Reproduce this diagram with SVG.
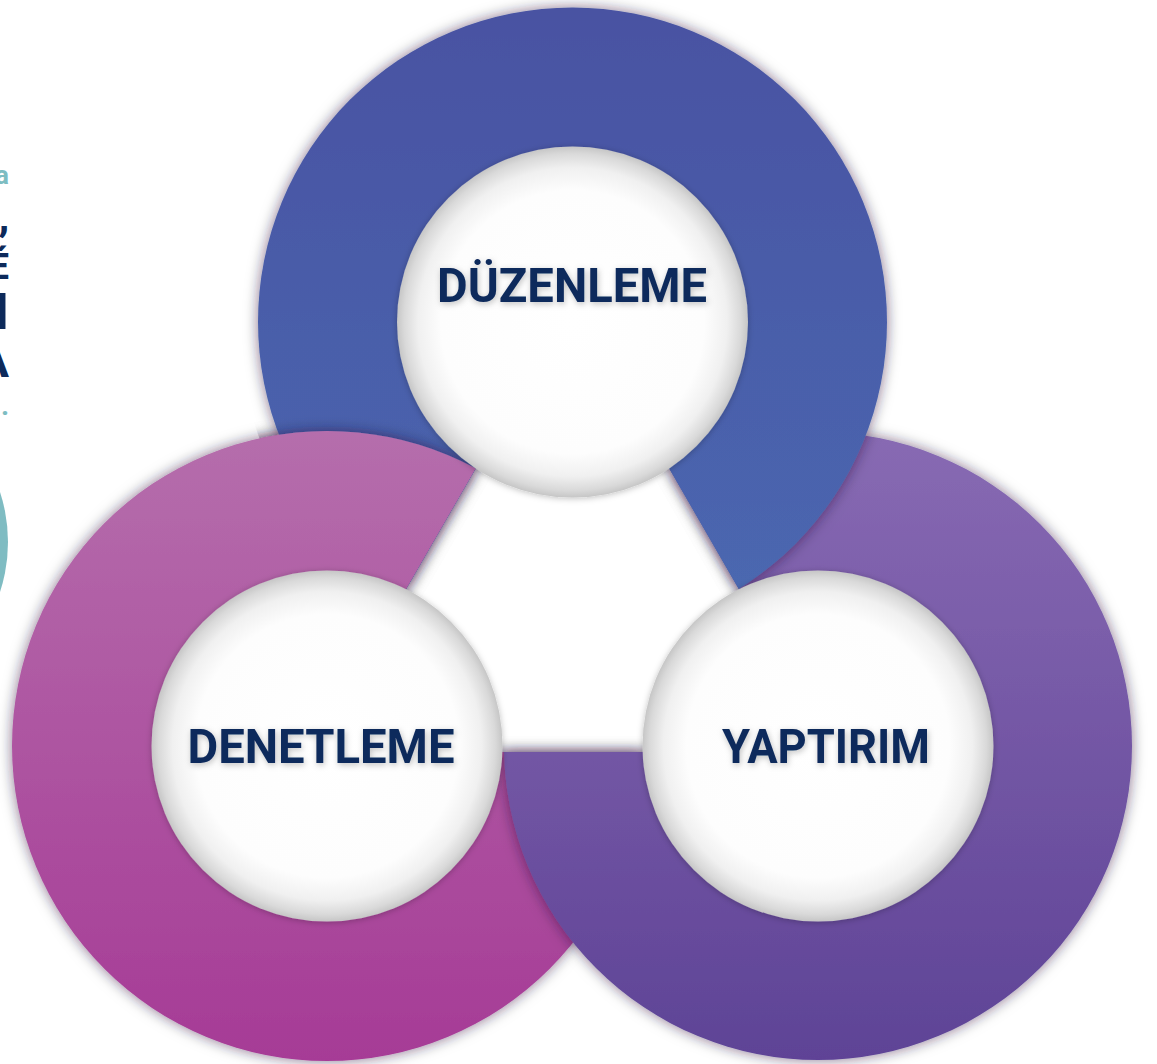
<svg xmlns="http://www.w3.org/2000/svg" width="1157" height="1064" viewBox="0 0 1157 1064">
<style>
.lbl{font-family:Roboto,"Liberation Sans",sans-serif;font-weight:700;font-size:49px;fill:#0d2a5b;text-anchor:middle}
.frag{font-family:Roboto,"Liberation Sans",sans-serif;font-weight:700;text-anchor:end}
</style>
<defs>
<linearGradient id="gBlue" x1="0" y1="0" x2="0" y2="1"><stop offset="0" stop-color="#4952a2"/><stop offset="1" stop-color="#4b69b1"/></linearGradient>
<linearGradient id="gPink" x1="0" y1="0" x2="0" y2="1"><stop offset="0" stop-color="#b56eac"/><stop offset="1" stop-color="#a63b96"/></linearGradient>
<linearGradient id="gPurple" x1="0" y1="0" x2="0" y2="1"><stop offset="0" stop-color="#886ab3"/><stop offset="1" stop-color="#5e4396"/></linearGradient>
<radialGradient id="gInner" cx="0.5" cy="0.5" r="0.5">
<stop offset="0" stop-color="#ffffff"/><stop offset="0.75" stop-color="#fdfdfd"/><stop offset="0.88" stop-color="#f0f0f0"/><stop offset="0.96" stop-color="#d9d9d9"/><stop offset="1" stop-color="#c6c6c6"/>
</radialGradient>
<filter id="sh" x="-20%" y="-20%" width="140%" height="140%"><feDropShadow dx="0" dy="0" stdDeviation="7" flood-color="#1c1030" flood-opacity="0.55"/></filter>
<filter id="shIn" x="-20%" y="-20%" width="140%" height="140%"><feDropShadow dx="0" dy="1" stdDeviation="3" flood-color="#000" flood-opacity="0.25"/></filter>
<filter id="tsh" x="-10%" y="-30%" width="120%" height="160%"><feDropShadow dx="1" dy="2" stdDeviation="3" flood-color="#000" flood-opacity="0.25"/></filter>
<clipPath id="notT"><path clip-rule="evenodd" d="M-10 -10H1170V1080H-10Z M572.5 301.1 L832.8 752 L312.2 752 Z"/></clipPath>
<clipPath id="blueBig"><circle cx="572.5" cy="322" r="334"/></clipPath>
</defs>
<rect width="1157" height="1064" fill="#ffffff"/>
<g id="edge-fragments">
<text class="frag" x="9" y="184" font-size="26" fill="#7dbdc2">a</text>
<text class="frag" x="9" y="262" font-size="48" fill="#0d2a5b">’</text>
<text class="frag" x="9" y="279" font-size="36" fill="#0d2a5b">É</text>
<text class="frag" x="9" y="329" font-size="50" fill="#0d2a5b">I</text>
<text class="frag" x="9" y="377" font-size="48" fill="#0d2a5b">A</text>
<text class="frag" x="9" y="415" font-size="28" fill="#7dbdc2">.</text>
<circle cx="-152" cy="542" r="160" fill="#7fbcc2"/>
</g>
<g id="connectors"></g>
<g id="ring-denetleme">
<g filter="url(#sh)"><circle cx="327" cy="746" r="315" fill="url(#gPink)" clip-path="url(#notT)"/></g>
</g>
<g id="ring-yaptirim">
<g filter="url(#sh)"><circle cx="818" cy="746" r="314" fill="url(#gPurple)" clip-path="url(#notT)"/></g>
</g>
<g id="ring-duzenleme">
<g filter="url(#sh)"><circle cx="572.5" cy="322" r="314.5" fill="url(#gBlue)" clip-path="url(#notT)"/></g>
</g>
<g id="ring-denetleme-over" clip-path="url(#notT)">
<g clip-path="url(#blueBig)">
<g filter="url(#sh)"><circle cx="327" cy="746" r="315" fill="url(#gPink)" clip-path="url(#notT)"/></g>
</g>
</g>
<g id="node-duzenleme">
<circle cx="572.5" cy="322" r="175.5" fill="url(#gInner)" filter="url(#shIn)"/>
<text class="lbl" x="572" y="302" textLength="270" lengthAdjust="spacingAndGlyphs" filter="url(#tsh)">DÜZENLEME</text>
</g>
<g id="node-denetleme">
<circle cx="327" cy="746" r="175.5" fill="url(#gInner)" filter="url(#shIn)"/>
<text class="lbl" x="321" y="763" textLength="267" lengthAdjust="spacingAndGlyphs" filter="url(#tsh)">DENETLEME</text>
</g>
<g id="node-yaptirim">
<circle cx="818" cy="746" r="175.5" fill="url(#gInner)" filter="url(#shIn)"/>
<text class="lbl" x="826" y="763" textLength="208" lengthAdjust="spacingAndGlyphs" filter="url(#tsh)">YAPTIRIM</text>
</g>
</svg>
